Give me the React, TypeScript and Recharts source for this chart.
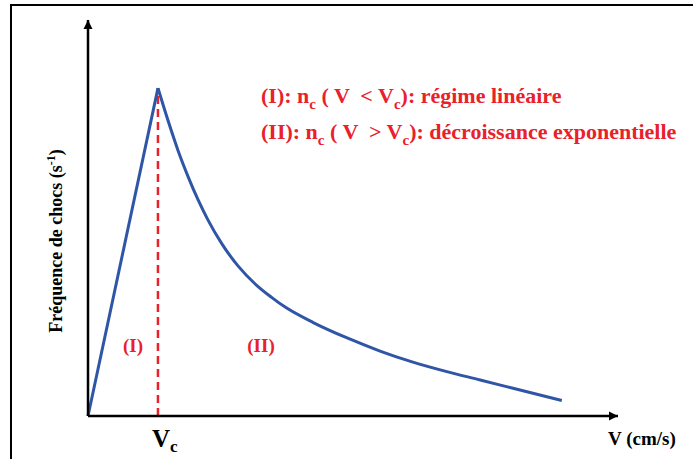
import React from 'react';
import { LineChart, Line, XAxis, YAxis, ReferenceLine, ReferenceDot } from 'recharts';

// rising part (régime linéaire), V in % of axis length, f in % of axis height
const RISE_V = [0, 13.2];
const RISE_F = [0, 82.8];

// decreasing part (décroissance exponentielle)
const DECAY_V = [13.2, 15.1, 17.0, 18.9, 20.8, 22.6, 25.3, 28.3, 31.5, 34.7, 37.2, 42.5, 48.9, 55.1, 61.3, 67.7, 74.0, 80.2, 89.4];
const DECAY_F = [82.8, 74.6, 67.0, 60.4, 54.5, 49.6, 43.4, 37.9, 33.4, 29.9, 27.5, 23.6, 19.7, 16.4, 13.6, 11.2, 9.1, 7.0, 3.9];

const VC = 13.2;
const PEAK = 82.8;
const AXIS_MAX = 100;

const rise = RISE_V.map((v, i) => ({ v, f: RISE_F[i] }));
const decay = DECAY_V.map((v, i) => ({ v, f: DECAY_F[i] }));

const RED = '#e8212b';
const BLUE = '#2f56a6';
const serif = { fontFamily: "'Liberation Serif', 'Times New Roman', serif", fontWeight: 700, whiteSpace: 'pre' as const };

const ArrowUp = (props: any) => {
  const { cx, cy } = props;
  return <path d={`M${cx - 4.5},${cy + 9} L${cx},${cy} L${cx + 4.5},${cy + 9} Z`} fill="#000" />;
};

const ArrowRight = (props: any) => {
  const { cx, cy } = props;
  return <path d={`M${cx - 9},${cy - 4.5} L${cx},${cy} L${cx - 9},${cy + 4.5} Z`} fill="#000" />;
};

const Texts = () => (
  <g>
    <text x={261} y={103} fill={RED} fontSize={22} style={serif}>
      (I): n<tspan fontSize={15} dy={6}>c</tspan>
      <tspan dy={-6}> ( V  &lt; V</tspan>
      <tspan fontSize={15} dy={6}>c</tspan>
      <tspan dy={-6}>): régime linéaire</tspan>
    </text>
    <text x={261} y={139} fill={RED} fontSize={22} style={serif}>
      (II): n<tspan fontSize={15} dy={6}>c</tspan>
      <tspan dy={-6}> ( V  &gt; V</tspan>
      <tspan fontSize={15} dy={6}>c</tspan>
      <tspan dy={-6}>): décroissance exponentielle</tspan>
    </text>
    <text x={133} y={352} fill={RED} fontSize={19} textAnchor="middle" style={serif}>(I)</text>
    <text x={261} y={352} fill={RED} fontSize={19} textAnchor="middle" style={serif}>(II)</text>
    <text x={152} y={447} fill="#000" fontSize={25} style={serif}>
      V<tspan fontSize={17} dy={5}>c</tspan>
    </text>
    <text x={608} y={445} fill="#000" fontSize={19} style={serif}>V (cm/s)</text>
    <text x={0} y={0} fill="#000" fontSize={18} textAnchor="middle" transform="translate(62,241) rotate(-90)" style={serif}>
      Fréquence de chocs (s<tspan fontSize={12} dy={-7}>-1</tspan>
      <tspan dy={7}>)</tspan>
    </text>
  </g>
);

export default function App() {
  return (
    <div style={{ position: 'absolute', left: 0, top: 0, width: 693, height: 459, overflow: 'hidden', background: '#fff' }}>
      <div
        style={{
          position: 'absolute',
          left: 10,
          top: 4,
          width: 720,
          height: 480,
          borderLeft: '2px solid #000',
          borderTop: '2px solid #000',
        }}
      />
      <div style={{ position: 'absolute', left: 0, top: 0 }}>
        <LineChart width={693} height={459} margin={{ top: 20, right: 75, bottom: 42, left: 87 }}>
          <XAxis
            type="number"
            dataKey="v"
            domain={[0, AXIS_MAX]}
            height={1}
            tick={false}
            tickLine={false}
            axisLine={{ stroke: '#000', strokeWidth: 2.5 }}
          />
          <YAxis
            type="number"
            domain={[0, AXIS_MAX]}
            width={1}
            tick={false}
            tickLine={false}
            axisLine={{ stroke: '#000', strokeWidth: 2.5 }}
          />
          <ReferenceLine
            segment={[{ x: VC, y: 0 }, { x: VC, y: PEAK }]}
            stroke={RED}
            strokeWidth={2.5}
            strokeDasharray="8 5"
          />
          <Line
            data={rise}
            dataKey="f"
            type="linear"
            stroke={BLUE}
            strokeWidth={3}
            dot={false}
            isAnimationActive={false}
          />
          <Line
            data={decay}
            dataKey="f"
            type="monotone"
            stroke={BLUE}
            strokeWidth={3}
            dot={false}
            isAnimationActive={false}
          />
          <ReferenceDot x={0} y={AXIS_MAX} r={0} shape={ArrowUp} ifOverflow="visible" />
          <ReferenceDot x={AXIS_MAX} y={0} r={0} shape={ArrowRight} ifOverflow="visible" />
          <Texts />
        </LineChart>
      </div>
    </div>
  );
}
